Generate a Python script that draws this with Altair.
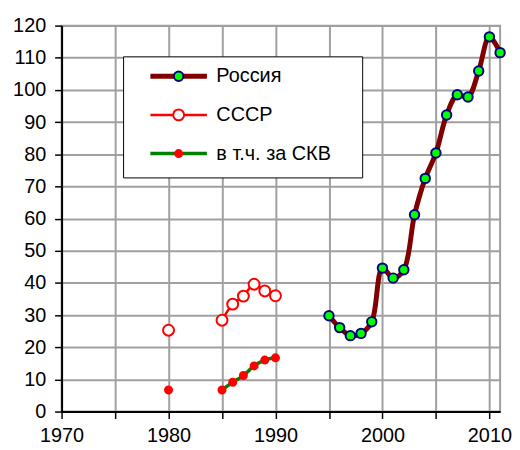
import altair as alt
import pandas as pd

# ---- data ----
series_names = ["Россия", "СССР", "в т.ч. за СКВ"]

years_russia = [1995, 1996, 1997, 1998, 1999, 2000, 2001, 2002, 2003,
                2004, 2005, 2006, 2007, 2008, 2009, 2010, 2011]
russia = [29.8, 26.1, 23.6, 24.3, 27.9, 44.6, 41.5, 44.1, 61.2,
          72.5, 80.4, 92.2, 98.5, 97.8, 105.9, 116.5, 111.6]

years_ussr = [1980, 1985, 1986, 1987, 1988, 1989, 1990]
ussr = [25.3, 28.4, 33.4, 35.9, 39.6, 37.5, 36.0]
skv = [6.7, 6.7, 9.1, 11.2, 14.2, 16.0, 16.7]

x_ticks = list(range(1970, 2011, 5))
y_ticks = list(range(0, 121, 10))

# ---- table ----
rows = []
for y, v in zip(years_russia, russia):
    rows.append({"year": y, "value": v, "series": series_names[0], "seg": "r"})
for y, v in zip(years_ussr, ussr):
    rows.append({"year": y, "value": v, "series": series_names[1],
                 "seg": "u1" if y == 1980 else "u2"})
for y, v in zip(years_ussr, skv):
    rows.append({"year": y, "value": v, "series": series_names[2],
                 "seg": "s1" if y == 1980 else "s2"})
df = pd.DataFrame(rows)
df["series2"] = df["series"]

FONT = "Liberation Sans"

x_enc = alt.X("year:Q", scale=alt.Scale(domain=[1970, 2011], nice=False, zero=False),
              axis=alt.Axis(values=x_ticks, format="d",
                            labelExpr="datum.value % 10 == 0 ? datum.label : ''",
                            title=None, labelFlush=False, labelOverlap=False,
                            tickSize=7, labelPadding=7))
y_enc = alt.Y("value:Q", scale=alt.Scale(domain=[0, 120], nice=False),
              axis=alt.Axis(values=y_ticks, title=None, tickSize=7, labelPadding=9))

legend_common = dict(orient="none", legendX=62, legendY=31,
                     padding=10, rowPadding=19, labelFont=FONT, labelFontSize=20,
                     labelColor="black", symbolOffset=36, labelOffset=28)

# frame + line samples + visible labels; the transparent bottom title only
# widens the frame to the reference's size
legend_a = alt.Legend(strokeColor="black", fillColor="white",
                      symbolType="M-5.2,0L5.2,0", symbolSize=120, zindex=1,
                      title="_" * 99, titleOrient="bottom", titleFontSize=4,
                      titlePadding=0, titleOpacity=0, titleLimit=400,
                      titleAnchor="start",
                      **legend_common)
# marker samples only (labels empty)
legend_b = alt.Legend(symbolType="circle", symbolStrokeWidth=2, zindex=2,
                      title=None, labelExpr="''", **legend_common)

lines = alt.Chart(df).mark_line(interpolate="catmull-rom").encode(
    x=x_enc, y=y_enc,
    detail="seg:N",
    stroke=alt.Stroke("series:N",
                      scale=alt.Scale(type="ordinal", domain=series_names,
                                      range=["#800000", "#ff0000", "#008000"]),
                      legend=legend_a),
    strokeWidth=alt.StrokeWidth("series:N",
                                scale=alt.Scale(type="ordinal", domain=series_names,
                                                range=[5, 2.5, 3.5]),
                                legend=legend_a),
)

points = alt.Chart(df).mark_point(filled=True, shape="circle", strokeWidth=2, opacity=1).encode(
    x=x_enc, y=y_enc,
    fill=alt.Fill("series2:N",
                  scale=alt.Scale(type="ordinal", domain=series_names,
                                  range=["#00ff00", "#ffffff", "#ff0000"]),
                  legend=legend_b),
    stroke=alt.Stroke("series2:N",
                      scale=alt.Scale(type="ordinal", domain=series_names,
                                      range=["#000080", "#ff0000", "#ff0000"]),
                      legend=legend_b),
    size=alt.Size("series2:N",
                  scale=alt.Scale(type="ordinal", domain=series_names,
                                  range=[90, 121, 50]),
                  legend=legend_b),
)

chart = alt.layer(lines, points).resolve_scale(
    stroke="independent", strokeWidth="independent",
    fill="independent", size="independent"
).properties(
    width=442, height=389,
    padding={"left": 54, "top": 16, "right": 12, "bottom": 38},
    autosize=alt.AutoSizeParams(type="none"),
).configure_view(
    stroke="#a0a0a0", strokeWidth=2
).configure_axis(
    labelFont=FONT, labelFontSize=20, labelColor="black",
    domainColor="black", domainWidth=2,
    tickColor="black", tickWidth=1.5,
    gridColor="#a0a0a0", gridWidth=2, grid=True,
)

chart.save("out.html", embed_options={"renderer": "svg", "actions": False})
